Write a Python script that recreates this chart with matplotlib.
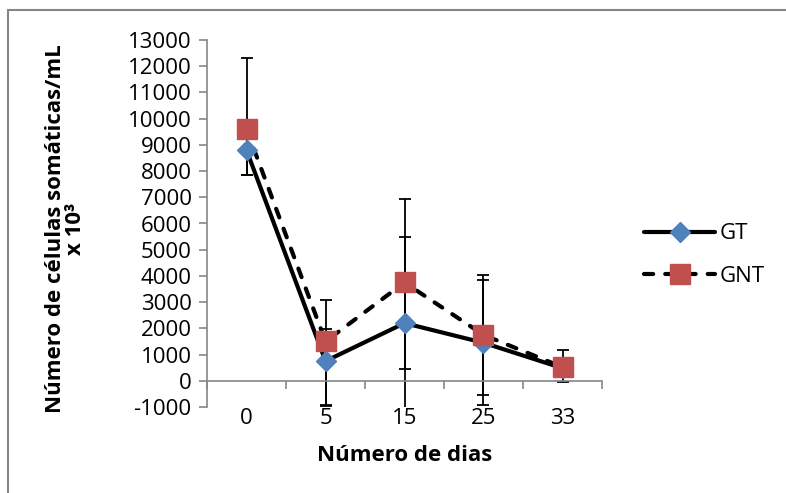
import matplotlib
matplotlib.use("Agg")
import matplotlib.pyplot as plt
from matplotlib.lines import Line2D
from matplotlib.patches import Rectangle

# data
dias = ["0", "5", "15", "25", "33"]
gt = [8800, 750, 2200, 1450, 480]
gt_err_low = [940, 1670, 3300, 2370, 300]
gt_err_high = [940, 1230, 3300, 2400, 300]
gnt = [9600, 1500, 3750, 1750, 520]
gnt_err_low = [1740, 2480, 3290, 2310, 560]
gnt_err_high = [2700, 1600, 3200, 2300, 660]
y_ticks = list(range(-1000, 13001, 1000))

plt.rcParams['font.family'] = ['Open Sans', 'DejaVu Sans']

axis_gray = '#868686'
blue = '#4F81BD'
red = '#C0504D'
fs = 16

fig = plt.figure(figsize=(7.86, 4.93), dpi=100)
ax = fig.add_axes([207 / 786, 1 - 407 / 493, (602 - 207) / 786, (407 - 40) / 493])

# outer chart border (only top/left visible in the reference)
fig.patches.append(Rectangle((8 / 786, -0.1), 1.2, 1 - 10 / 493 + 0.1,
                             transform=fig.transFigure, fill=False,
                             edgecolor=axis_gray, linewidth=1.5))

x = list(range(len(dias)))

# error bars
ax.errorbar(x, gt, yerr=[gt_err_low, gt_err_high], fmt='none', ecolor='black',
            elinewidth=1.3, capsize=4.5, capthick=1.3, zorder=2)
ax.errorbar(x, gnt, yerr=[gnt_err_low, gnt_err_high], fmt='none', ecolor='black',
            elinewidth=1.3, capsize=4.5, capthick=1.3, zorder=2)

# lines
ax.plot(x, gt, color='black', linewidth=3, solid_capstyle='round', zorder=3)
ax.plot(x, gnt, color='black', linewidth=3, dashes=(2.2, 2.9),
        dash_capstyle='round', zorder=3)

# markers
ax.plot(x, gt, linestyle='none', marker='D', markersize=10,
        markerfacecolor=blue, markeredgecolor=blue, zorder=4)
ax.plot(x, gnt, linestyle='none', marker='s', markersize=14.5,
        markerfacecolor=red, markeredgecolor=red, zorder=5)

ax.set_xlim(-0.5, len(dias) - 0.5)
ax.set_ylim(-1000, 13000)
ax.set_yticks(y_ticks)
ax.set_yticklabels([str(v) for v in y_ticks], fontsize=fs)
ax.tick_params(axis='y', direction='out', length=6, width=1.2, color=axis_gray, pad=5)

# category axis crosses at zero, labels stay at the bottom
for side in ['top', 'right']:
    ax.spines[side].set_visible(False)
ax.spines['left'].set_color(axis_gray)
ax.spines['left'].set_linewidth(1.2)
ax.spines['bottom'].set_position(('data', 0))
ax.spines['bottom'].set_color(axis_gray)
ax.spines['bottom'].set_linewidth(1.2)
ax.set_xticks([i - 0.5 for i in range(len(dias) + 1)])
ax.set_xticklabels([])
ax.tick_params(axis='x', direction='out', length=6, width=1.2, color=axis_gray)

secax = ax.secondary_xaxis(0)
secax.spines['bottom'].set_visible(False)
secax.set_xticks(x)
secax.set_xticklabels(dias, fontsize=fs)
secax.tick_params(axis='x', length=0, pad=1)
secax.set_xlabel('Número de dias', fontsize=fs, fontweight='bold', labelpad=11)

ax.set_ylabel('Número de células somáticas/mL\nx 10³', fontsize=fs,
              fontweight='bold', linespacing=0.95)
ax.yaxis.set_label_coords((86 - 207) / 395, 0.485)

handles = [
    Line2D([], [], color='black', linewidth=3, marker='D', markersize=10,
           markerfacecolor=blue, markeredgecolor=blue, solid_capstyle='round'),
    Line2D([], [], color='black', linewidth=3, dashes=(2.2, 2.9),
           dash_capstyle='round', marker='s', markersize=14.5,
           markerfacecolor=red, markeredgecolor=red),
]
fig.legend(handles, ['GT', 'GNT'], loc='center left',
           bbox_to_anchor=(624 / 786, 1 - 255 / 493), frameon=False,
           fontsize=fs, handlelength=3.2, labelspacing=0.95, handletextpad=0.2)

fig.savefig('out.png', dpi=100)
